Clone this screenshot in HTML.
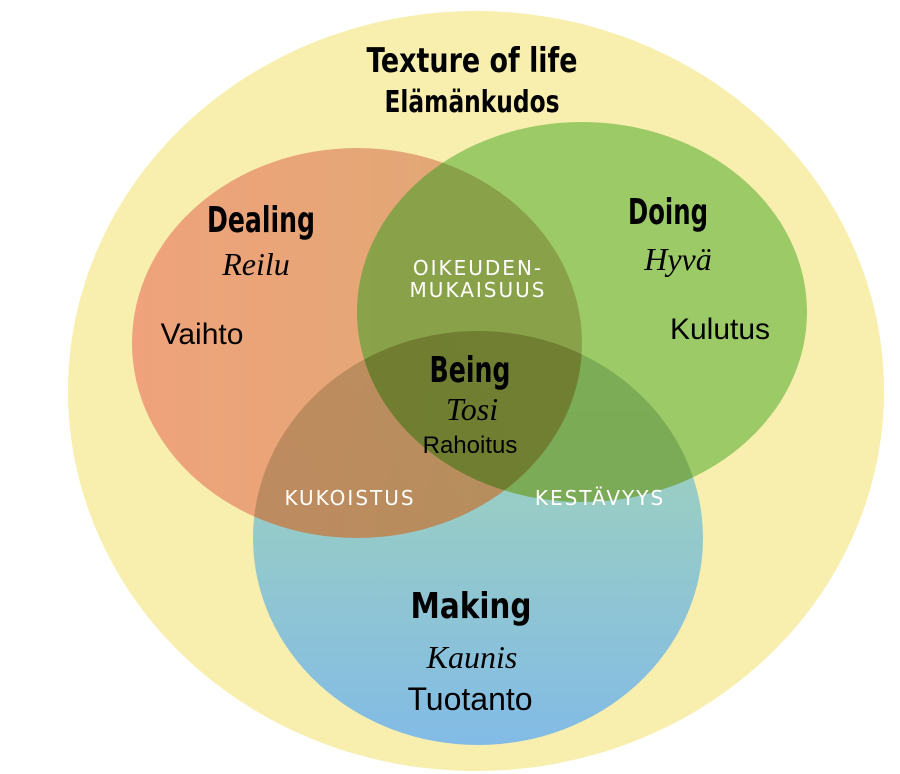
<!DOCTYPE html>
<html><head><meta charset="utf-8"><style>
html,body{margin:0;padding:0;background:#fff;}
svg{display:block;}
.h{font-family:"Liberation Sans Narrow","DejaVu Sans Condensed","Liberation Sans",sans-serif;font-weight:bold;fill:#000;}
.s{font-family:"Liberation Serif",serif;font-style:italic;fill:#000;}
.n{font-family:"Liberation Sans",sans-serif;fill:#000;}
.w{font-family:"DejaVu Sans","Liberation Sans",sans-serif;fill:#fff;letter-spacing:2px;}
</style></head><body>
<svg width="900" height="774" viewBox="0 0 900 774">
<defs>
<linearGradient id="bg" x1="0" y1="0" x2="0" y2="1">
<stop offset="0" stop-color="#a7d8b0"/><stop offset="1" stop-color="#82bbe6"/>
</linearGradient>
<linearGradient id="rg" x1="0" y1="0" x2="1" y2="0">
<stop offset="0" stop-color="#ee9874"/><stop offset="1" stop-color="#d9a06a"/>
</linearGradient>
<clipPath id="cr"><ellipse cx="357" cy="343" rx="225" ry="195"/></clipPath>
<clipPath id="cg"><ellipse cx="582" cy="312" rx="225" ry="190"/></clipPath>
</defs>
<rect width="900" height="774" fill="#fff"/>
<ellipse cx="476" cy="391" rx="408" ry="380" fill="#f8eeae"/>
<ellipse cx="478" cy="538" rx="225" ry="207" fill="url(#bg)"/>
<ellipse cx="357" cy="343" rx="225" ry="195" fill="url(#rg)" opacity="0.88"/>
<ellipse cx="582" cy="312" rx="225" ry="190" fill="#8cc35a" opacity="0.85"/>
<!-- darken overlaps -->
<ellipse cx="478" cy="538" rx="225" ry="207" fill="#5a4a10" opacity="0.25" clip-path="url(#cr)"/>
<ellipse cx="478" cy="538" rx="225" ry="207" fill="#3a5010" opacity="0.22" clip-path="url(#cg)"/>
<g clip-path="url(#cr)"><ellipse cx="582" cy="312" rx="225" ry="190" fill="#5a4a10" opacity="0.25"/></g>
<text class="h" x="472" y="72" font-size="34" text-anchor="middle" textLength="211" lengthAdjust="spacingAndGlyphs">Texture of life</text>
<text class="h" x="472" y="112" font-size="30" text-anchor="middle" textLength="175" lengthAdjust="spacingAndGlyphs">Elämänkudos</text>
<text class="h" x="261" y="232" font-size="36" text-anchor="middle" textLength="108" lengthAdjust="spacingAndGlyphs">Dealing</text>
<text class="s" x="256" y="275" font-size="32" text-anchor="middle">Reilu</text>
<text class="n" x="202" y="344" font-size="30" text-anchor="middle">Vaihto</text>
<text class="h" x="668" y="224" font-size="36" text-anchor="middle" textLength="80" lengthAdjust="spacingAndGlyphs">Doing</text>
<text class="s" x="678" y="270" font-size="32" text-anchor="middle">Hyvä</text>
<text class="n" x="720" y="339" font-size="30" text-anchor="middle">Kulutus</text>
<text class="w" x="478" y="275" font-size="20" text-anchor="middle">OIKEUDEN-</text>
<text class="w" x="478" y="297" font-size="20" text-anchor="middle">MUKAISUUS</text>
<text class="h" x="470" y="382" font-size="36" text-anchor="middle" textLength="81" lengthAdjust="spacingAndGlyphs">Being</text>
<text class="s" x="472" y="420" font-size="32" text-anchor="middle">Tosi</text>
<text class="n" x="470" y="453" font-size="24" text-anchor="middle">Rahoitus</text>
<text class="w" x="350" y="505" font-size="20" text-anchor="middle">KUKOISTUS</text>
<text class="w" x="600" y="505" font-size="20" text-anchor="middle">KESTÄVYYS</text>
<text class="h" x="471" y="618" font-size="36" text-anchor="middle" textLength="121" lengthAdjust="spacingAndGlyphs">Making</text>
<text class="s" x="472" y="668" font-size="32" text-anchor="middle">Kaunis</text>
<text class="n" x="470" y="710" font-size="32" text-anchor="middle">Tuotanto</text>
</svg>
</body></html>
